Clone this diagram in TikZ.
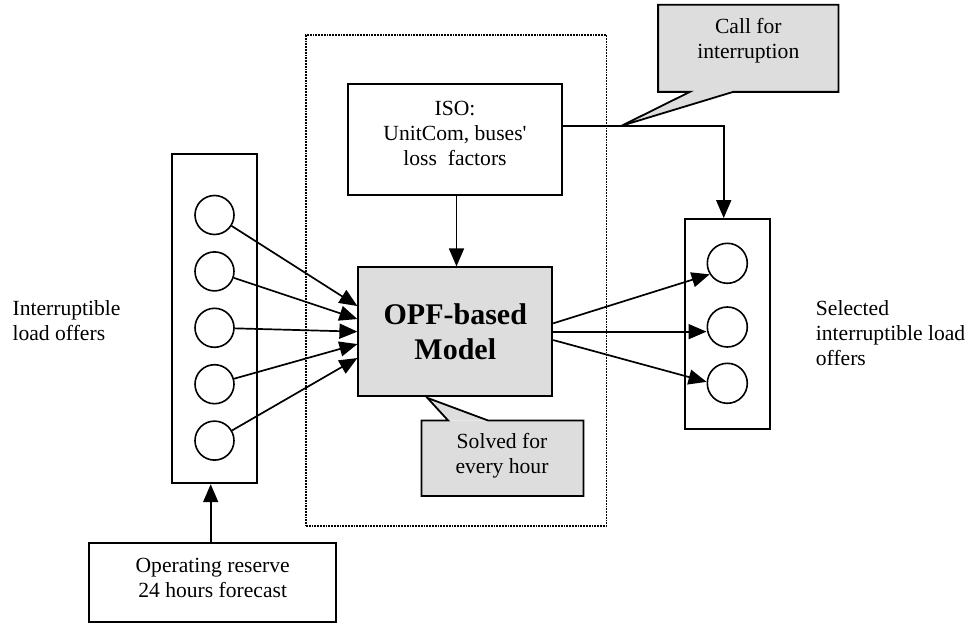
\documentclass[tikz,border=0pt]{standalone}
\usepackage{fontspec}
\setmainfont{Liberation Serif}
\usetikzlibrary{arrows.meta,calc}
\definecolor{boxgray}{RGB}{221,221,221}
\newcommand{\normaltxt}{\fontsize{21.6}{25}\selectfont}
\newcommand{\bigbold}{\fontsize{30}{35}\selectfont\bfseries}
\begin{document}
\begin{tikzpicture}[x=1pt,y=-1pt,
  lw/.style={line width=1.8pt},
  box/.style={draw,line width=1.8pt,inner sep=0pt,align=center},
  txt/.style={font=\normaltxt,align=center,inner sep=0pt},
  dotbox/.style={draw,line width=1.8pt,dash pattern=on 1.8pt off 1pt,inner sep=0pt},
  ball/.style={draw,circle,line width=1.6pt,inner sep=0pt},
  arr/.style={line width=1.7pt,-{Triangle[length=18pt,width=15pt]}},
  line join=miter]
\useasboundingbox (0,0) rectangle (969,623);

% dotted group
\node[dotbox,minimum width=300.5,minimum height=491] (grp) at (456.25,280.5) {};

% ISO box
\node[box,minimum width=214,minimum height=110.6] (iso) at (455,139.7) {};
\node[txt] (isotxt) at (455,133) {ISO:\\UnitCom, buses\textquotesingle\\loss\ \ factors};

% OPF model
\node[box,fill=boxgray,minimum width=194,minimum height=128.7,font=\bigbold] (opf) at (455.3,331.65) {OPF-based\\Model};

% Call for interruption callout
\node[fill=boxgray,inner sep=0pt,minimum width=180,minimum height=86.7] (call) at (748.3,48.35) {};
\coordinate (calltip) at (621.7,125.7);
\fill[boxgray] ($(call.south west)+(75,0)$) -- (calltip) -- ($(call.south west)+(31.7,0)$) -- cycle;
\draw[lw] (call.south west) -- (call.north west) -- (call.north east) -- (call.south east)
  -- ($(call.south west)+(75,0)$) -- (calltip) -- ($(call.south west)+(31.7,0)$) -- cycle;
\node[txt] (calltxt) at (748.3,40.5) {Call for\\interruption};

% Solved callout
\node[fill=boxgray,inner sep=0pt,minimum width=161.6,minimum height=75] (solved) at (502.5,458.2) {};
\coordinate (soltip) at ($(opf.south west)+(70,1)$);
\fill[boxgray] ($(solved.north west)+(26.6,0)$) -- (soltip) -- ($(solved.north west)+(66.6,0)$) -- cycle;
\draw[lw] (solved.north west) -- ($(solved.north west)+(26.6,0)$) -- (soltip)
  -- ($(solved.north west)+(66.6,0)$) -- (solved.north east) -- (solved.south east)
  -- (solved.south west) -- cycle;
\node[txt] (soltxt) at (502,455.5) {Solved for\\every hour};

% left panel
\node[box,minimum width=85.6,minimum height=329] (lp) at (214.5,318.8) {};
\foreach \i/\y in {1/215,2/271.4,3/327.8,4/384.2,5/440.6}{
  \node[ball,minimum size=39] (l\i) at (214.5,\y) {};
}
\node[txt,anchor=west,align=left] (ltxt) at (12.4,320.5) {Interruptible\\load offers};

% right panel
\node[box,minimum width=85,minimum height=210] (rp) at (727.5,324) {};
\node[ball,minimum size=40] (r1) at (727.3,263.3) {};
\node[ball,minimum size=40] (r2) at (727.3,327) {};
\node[ball,minimum size=40] (r3) at (727.3,383.3) {};
\node[txt,anchor=west,align=left] (rtxt) at (815.7,333) {Selected\\interruptible load\\offers};

% operating reserve
\node[box,minimum width=246.7,minimum height=78.4] (op) at (212.7,582.5) {};
\node[txt] (optxt) at (212.7,578) {Operating reserve\\24 hours forecast};

% arrows: left circles to OPF
\coordinate (t1) at ($(opf.west)+(0,-25.6)$);
\coordinate (t2) at ($(opf.west)+(0,-12.6)$);
\coordinate (t3) at (opf.west);
\coordinate (t4) at ($(opf.west)+(0,12.4)$);
\coordinate (t5) at ($(opf.west)+(0,26.4)$);
\foreach \i in {1,...,5}{\draw[arr] (l\i) -- (t\i);}

% arrows: OPF to right circles
\coordinate (s1) at ($(opf.east)+(0,-8.3)$);
\coordinate (s3) at ($(opf.east)+(0,8.4)$);
\draw[arr] (s1) -- (r1.212);
\draw[arr] (opf.east) -- (opf.east -| r2.west);
\draw[arr] (s3) -- (r3.176);

% ISO to OPF
\draw[arr] ($(iso.south)+(1.5,0)$) -- ($(opf.north)+(1.2,0)$);

% ISO to right panel
\coordinate (k) at ($(iso.east)+(0,-14)$);
\draw[arr] (k) -| ($(rp.north)+(-3.8,0)$);

% operating reserve to left panel
\draw[arr] ($(op.north)+(-2,0)$) -- ($(lp.south)+(-3.8,0)$);
\end{tikzpicture}
\end{document}
